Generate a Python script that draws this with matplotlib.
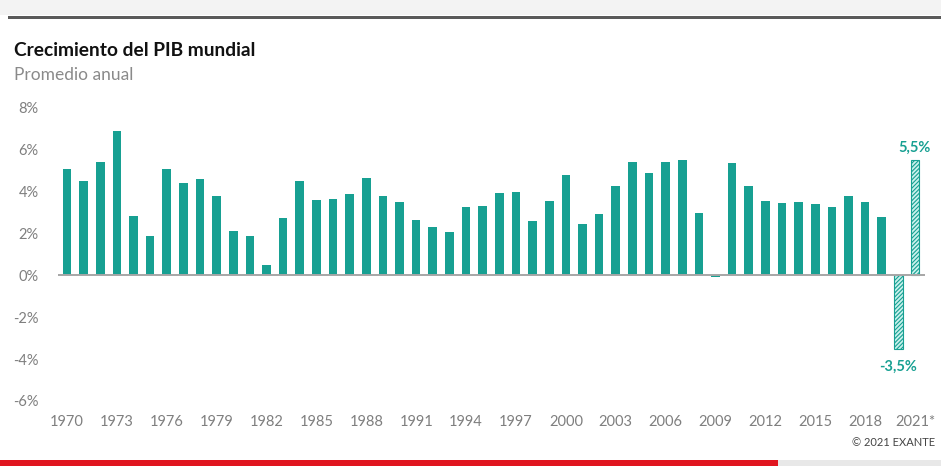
#!/usr/bin/env python3
"""
World GDP growth bar chart (1970-2021*), Spanish labels
"""

import numpy as np
import matplotlib
matplotlib.use('Agg')
import matplotlib.pyplot as plt
from matplotlib.patches import Rectangle

plt.rcParams['font.family'] = ['Lato', 'DejaVu Sans']
plt.rcParams['hatch.linewidth'] = 0.8

# Data (% yearly growth)
years = list(range(1970, 2022))
growth = [5.1, 4.5, 5.4, 6.9, 2.85, 1.9, 5.1, 4.4, 4.6, 3.8,
          2.1, 1.9, 0.5, 2.75, 4.5, 3.6, 3.67, 3.9, 4.65, 3.8,
          3.5, 2.67, 2.33, 2.08, 3.27, 3.33, 3.92, 3.97, 2.6, 3.55,
          4.8, 2.46, 2.95, 4.27, 5.41, 4.89, 5.41, 5.5, 3.0, -0.07,
          5.37, 4.27, 3.54, 3.44, 3.5, 3.43, 3.27, 3.8, 3.5, 2.8,
          -3.5, 5.5]
estimated = [2020, 2021]
tick_years = list(range(1970, 2022, 3))
tick_labels = [str(y) for y in tick_years[:-1]] + ['2021*']
y_ticks = [-6, -4, -2, 0, 2, 4, 6, 8]

TEAL = '#17a092'
TEAL_LIGHT = '#c8f1ec'
GRAY = '#7f7f7f'

W, H = 941, 466
fig = plt.figure(figsize=(W / 100, H / 100), dpi=100)
fig.patch.set_facecolor('white')

# Decorative bands (top gray strip + dark rule, bottom red/gray rule)
fig.patches.append(Rectangle((0, 1 - 15 / H), 1, 15 / H, transform=fig.transFigure,
                             facecolor='#f3f3f3', edgecolor='none', zorder=0))
fig.patches.append(Rectangle((8 / W, 1 - 19 / H), 1, 3 / H, transform=fig.transFigure,
                             facecolor='#5a5a5a', edgecolor='none', zorder=1))
fig.patches.append(Rectangle((0, 0), 778 / W, 6 / H, transform=fig.transFigure,
                             facecolor='#e0151f', edgecolor='none', zorder=1))
fig.patches.append(Rectangle((778 / W, 0), 1, 6 / H, transform=fig.transFigure,
                             facecolor='#e8e8e8', edgecolor='none', zorder=1))

ax = fig.add_axes([58 / W, 1 - 401 / H, (925 - 58) / W, (401 - 108) / H])

x = np.arange(len(years))
for xi, yr, v in zip(x, years, growth):
    if yr in estimated:
        ax.bar(xi, v, width=0.52, color=TEAL_LIGHT, edgecolor=TEAL,
               hatch='////////', linewidth=0.8, zorder=2)
    else:
        ax.bar(xi, v, width=0.52, color=TEAL, edgecolor='none', zorder=2)

ax.axhline(0, color='#a6a6a6', linewidth=1.4, zorder=3)

# Value labels for 2020 and 2021*
i20 = years.index(2020)
i21 = years.index(2021)
ax.text(x[i21], growth[i21] + 0.25, '5,5%', ha='center', va='bottom',
        color=TEAL, fontsize=10.5, fontweight='bold')
ax.text(x[i20], growth[i20] - 0.55, '-3,5%', ha='center', va='top',
        color=TEAL, fontsize=10.5, fontweight='bold')

ax.set_xlim(-0.54, len(years) - 1 + 0.6)
ax.set_ylim(-6, 8)
ax.set_yticks(y_ticks)
ax.set_yticklabels([f'{t}%' for t in y_ticks])
ax.set_xticks([years.index(y) for y in tick_years])
ax.set_xticklabels(tick_labels)
ax.tick_params(axis='both', length=0, colors=GRAY, labelsize=10.5)
ax.tick_params(axis='y', pad=14)
ax.tick_params(axis='x', pad=10)
for s in ax.spines.values():
    s.set_visible(False)

fig.text(14 / W, 1 - 50 / H, 'Crecimiento del PIB mundial', fontsize=13.8,
         fontweight='bold', color='#111111', va='center', ha='left')
fig.text(14 / W, 1 - 75 / H, 'Promedio anual', fontsize=12.5,
         color='#8a8a8a', va='center', ha='left')
fig.text(935 / W, 1 - 443 / H, '\u00a9 2021 EXANTE', fontsize=8,
         color='#444444', va='center', ha='right')

plt.savefig('out.png', dpi=100)
plt.close()
